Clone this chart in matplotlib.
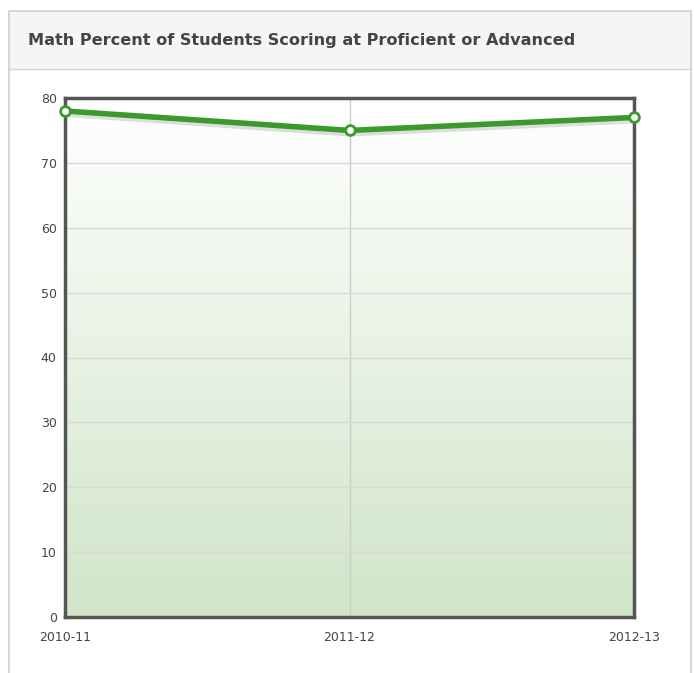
import matplotlib.pyplot as plt
from matplotlib.patches import Rectangle
import numpy as np

years = ["2010-11", "2011-12", "2012-13"]
values = [78, 75, 77]
yticks = [0, 10, 20, 30, 40, 50, 60, 70, 80]

W, H = 694, 673
fig = plt.figure(figsize=(W / 100, H / 100), dpi=100)

# panel frame and header
bg = fig.add_axes([0, 0, 1, 1])
bg.set_xlim(0, W)
bg.set_ylim(H, 0)
bg.axis("off")
bg.add_patch(Rectangle((9.5, 10.5), 682, 58, facecolor="#f5f5f5", edgecolor="none"))
bg.plot([9.5, 691.5], [68.5, 68.5], color="#d6d6d6", lw=1)
bg.plot([9.5, 9.5, 691.5, 691.5], [H, 10.5, 10.5, H], color="#cfcfcf", lw=1.2)
bg.text(28, 41, "Math Percent of Students Scoring at Proficient or Advanced",
        fontsize=11.6, fontweight="bold", color="#444444", va="center", ha="left")

left, right, top, bottom = 65, 634, 98, 617
ax = fig.add_axes([left / W, 1 - bottom / H, (right - left) / W, (bottom - top) / H])
x = np.arange(len(years))
ax.set_xlim(0, len(years) - 1)
ax.set_ylim(0, 80)

# gradient fill under the line
grad = np.linspace(0, 1, 256).reshape(-1, 1)
top_c = np.array([1.0, 1.0, 1.0])
bot_c = np.array([0xd0, 0xe5, 0xc8]) / 255
img = top_c * (1 - grad[..., None]) + bot_c * grad[..., None]
img = img.reshape(256, 1, 3)
im = ax.imshow(img, extent=[0, len(years) - 1, 0, 80], aspect="auto", zorder=0)
poly = ax.fill_between(x, values, 0, color="none")
im.set_clip_path(poly.get_paths()[0], transform=ax.transData)

ax.set_yticks(yticks)
ax.set_xticks(x)
ax.set_xticklabels(years)
ax.grid(axis="y", color="#d8d8d8", lw=1, zorder=1)
ax.axvline(1, color="#cccccc", lw=1, zorder=1)

# soft shadow then line
ax.plot(x, np.array(values) - 0.4, color="#000000", alpha=0.12, lw=5, zorder=2)
ax.plot(x, values, color="#3a9a2a", lw=4, zorder=3, solid_capstyle="round")
ax.plot(x, values, "o", ms=7, mfc="white", mec="#3a9a2a", mew=2, zorder=4, clip_on=False)

for s in ax.spines.values():
    s.set_color("#555555")
    s.set_linewidth(2.5)
ax.tick_params(length=0, labelsize=9, colors="#444444")
ax.tick_params(axis="x", pad=10)
ax.tick_params(axis="y", pad=6)

fig.savefig("out.png", dpi=100)
